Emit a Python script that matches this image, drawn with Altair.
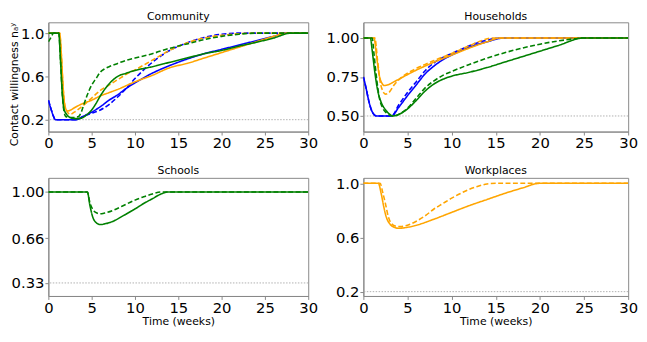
import altair as alt
import pandas as pd

BLUE, ORANGE, GREEN = "#0000ff", "#ffa500", "#008000"

# ---------------- Community ----------------
com_blue_solid_t = [0, 0.3, 0.6, 0.8, 3.2, 4, 5, 6, 7, 8, 9, 10, 12, 14, 16, 18, 20, 22, 24, 26, 27.5, 30]
com_blue_solid_v = [0.38, 0.30, 0.23, 0.20, 0.20, 0.23, 0.27, 0.32, 0.38, 0.43, 0.49, 0.54, 0.63, 0.70, 0.76, 0.81, 0.85, 0.89, 0.93, 0.97, 1.0, 1.0]
com_blue_dash_t = [0, 0.3, 0.6, 0.8, 3.2, 4, 5, 6, 7, 8, 9, 10, 11, 12, 13, 14, 16, 18, 20, 22, 30]
com_blue_dash_v = [0.38, 0.30, 0.23, 0.20, 0.20, 0.23, 0.26, 0.29, 0.34, 0.41, 0.49, 0.58, 0.66, 0.73, 0.79, 0.84, 0.91, 0.96, 0.99, 1.0, 1.0]
com_orange_solid_t = [0, 1.3, 1.5, 1.7, 1.9, 2.2, 2.6, 3, 4, 5, 6, 7, 8, 10, 12, 14, 16, 18, 20, 22, 24, 26, 27.5, 30]
com_orange_solid_v = [1.0, 1.0, 0.8, 0.5, 0.33, 0.28, 0.29, 0.31, 0.35, 0.38, 0.42, 0.45, 0.48, 0.55, 0.61, 0.68, 0.72, 0.77, 0.82, 0.87, 0.92, 0.97, 1.0, 1.0]
com_orange_dash_t = [0, 1.3, 1.5, 1.7, 2.0, 2.5, 3, 4, 5, 6, 7, 8, 9, 10, 12, 14, 16, 18, 20, 22, 24, 30]
com_orange_dash_v = [1.0, 1.0, 0.8, 0.5, 0.3, 0.25, 0.27, 0.33, 0.40, 0.47, 0.52, 0.57, 0.62, 0.66, 0.75, 0.84, 0.91, 0.955, 0.98, 0.995, 1.0, 1.0]
com_green_solid_t = [0, 1.2, 1.4, 1.6, 1.8, 2.1, 2.5, 3, 3.5, 4, 4.5, 5, 5.5, 6, 6.5, 7, 7.5, 8, 9, 10, 12, 14, 16, 18, 20, 22, 24, 26, 28, 30]
com_green_solid_v = [1.0, 1.0, 0.75, 0.45, 0.30, 0.25, 0.22, 0.21, 0.21, 0.22, 0.25, 0.29, 0.35, 0.42, 0.48, 0.53, 0.57, 0.60, 0.63, 0.655, 0.69, 0.73, 0.77, 0.81, 0.84, 0.88, 0.915, 0.955, 1.0, 1.0]
com_green_dash_t = [0, 0.3, 0.6, 1.2, 1.4, 1.6, 1.8, 2.0, 2.5, 3.0, 3.5, 3.8, 4.1, 4.5, 5, 5.5, 6, 6.5, 7, 8, 9, 10, 12, 14, 16, 18, 20, 22, 24, 30]
com_green_dash_v = [0.92, 0.96, 1.0, 1.0, 0.75, 0.45, 0.28, 0.23, 0.22, 0.22, 0.23, 0.27, 0.34, 0.43, 0.52, 0.58, 0.64, 0.67, 0.69, 0.72, 0.75, 0.77, 0.81, 0.86, 0.90, 0.94, 0.97, 0.99, 1.0, 1.0]

# ---------------- Households ----------------
hh_blue_solid_t = [0, 0.3, 0.6, 0.9, 1.2, 1.5, 3.2, 4, 5, 6, 7, 8, 9, 10, 12, 14, 16, 30]
hh_blue_solid_v = [0.75, 0.68, 0.60, 0.54, 0.51, 0.50, 0.50, 0.555, 0.63, 0.70, 0.77, 0.82, 0.86, 0.89, 0.94, 0.975, 1.0, 1.0]
hh_blue_dash_t = [0, 0.3, 0.6, 0.9, 1.2, 1.5, 3.2, 4, 5, 6, 7, 8, 9, 10, 12, 14, 15.5, 30]
hh_blue_dash_v = [0.75, 0.68, 0.60, 0.54, 0.51, 0.50, 0.50, 0.57, 0.65, 0.72, 0.79, 0.84, 0.875, 0.90, 0.95, 0.985, 1.0, 1.0]
hh_orange_solid_t = [0, 1.2, 1.5, 1.8, 2.1, 2.4, 2.8, 3.5, 4.5, 5.5, 7, 8, 10, 12, 14, 15.5, 30]
hh_orange_solid_v = [1.0, 1.0, 0.88, 0.76, 0.71, 0.695, 0.70, 0.72, 0.75, 0.78, 0.82, 0.845, 0.89, 0.935, 0.975, 1.0, 1.0]
hh_orange_dash_t = [0, 1.3, 1.6, 1.9, 2.2, 2.5, 2.9, 3.5, 4.5, 5.5, 7, 8, 10, 12, 13.5, 14.5, 30]
hh_orange_dash_v = [1.0, 1.0, 0.86, 0.72, 0.66, 0.64, 0.65, 0.70, 0.755, 0.79, 0.83, 0.855, 0.90, 0.95, 0.985, 1.0, 1.0]
hh_green_solid_t = [0, 0.8, 1.0, 1.3, 1.6, 2.0, 2.5, 3.0, 3.3, 4, 5, 6, 7, 8, 9, 10, 12, 14, 16, 18, 20, 22, 25, 30]
hh_green_solid_v = [1.0, 1.0, 0.92, 0.78, 0.67, 0.59, 0.54, 0.51, 0.50, 0.51, 0.545, 0.60, 0.66, 0.705, 0.735, 0.755, 0.78, 0.81, 0.845, 0.88, 0.915, 0.95, 1.0, 1.0]
hh_green_dash_t = [0, 1.0, 1.2, 1.5, 1.8, 2.2, 2.6, 3.0, 3.5, 4, 5, 6, 7, 8, 9, 10, 12, 14, 16, 18, 20, 22, 24, 25, 30]
hh_green_dash_v = [1.0, 1.0, 0.9, 0.74, 0.62, 0.55, 0.52, 0.505, 0.50, 0.51, 0.55, 0.615, 0.68, 0.725, 0.76, 0.785, 0.83, 0.87, 0.905, 0.935, 0.96, 0.98, 0.995, 1.0, 1.0]

# ---------------- Schools ----------------
sc_green_solid_t = [0, 4.5, 4.8, 5.1, 5.5, 6.0, 6.5, 7.5, 8.5, 10, 11, 12, 13, 13.8, 30]
sc_green_solid_v = [1.0, 1.0, 0.90, 0.82, 0.775, 0.76, 0.765, 0.785, 0.82, 0.875, 0.915, 0.95, 0.985, 1.0, 1.0]
sc_green_dash_t = [0, 4.5, 4.8, 5.2, 5.6, 6.0, 6.5, 7.5, 8.5, 10, 11, 12, 13, 30]
sc_green_dash_v = [1.0, 1.0, 0.92, 0.865, 0.845, 0.84, 0.845, 0.865, 0.895, 0.94, 0.965, 0.985, 1.0, 1.0]

# ---------------- Workplaces ----------------
wp_orange_solid_t = [0, 1.7, 2.0, 2.3, 2.6, 3.0, 3.5, 4.0, 5, 6, 8, 10, 12, 14, 16, 18, 20, 30]
wp_orange_solid_v = [1.0, 1.0, 0.93, 0.83, 0.75, 0.70, 0.675, 0.668, 0.675, 0.69, 0.735, 0.785, 0.835, 0.88, 0.925, 0.965, 1.0, 1.0]
wp_orange_dash_t = [0, 1.9, 2.2, 2.5, 2.8, 3.1, 3.6, 4.2, 5, 6, 7, 8, 9, 10, 11, 12, 13, 14, 15, 30]
wp_orange_dash_v = [1.0, 1.0, 0.93, 0.85, 0.76, 0.71, 0.685, 0.68, 0.69, 0.72, 0.76, 0.81, 0.85, 0.89, 0.925, 0.955, 0.978, 0.995, 1.0, 1.0]

x_ticks = [0, 5, 10, 15, 20, 25, 30]
FONT = "DejaVu Sans"


def frame(series):
    rows = []
    for key, (color, dash, ts, vs) in enumerate(series):
        for t, v in zip(ts, vs):
            rows.append({"t": t, "v": v, "c": color, "d": dash, "k": key})
    return pd.DataFrame(rows)


def panel(title, series, ydom, yticks, yfmt, hline, w, h, ytitle=None, xtitle=None, toff=2):
    df = frame(series)
    x = alt.X("t:Q", scale=alt.Scale(domain=[0, 30], nice=False),
              axis=alt.Axis(values=x_ticks, format="d", title=xtitle, labelFlush=False, titlePadding=0))
    yaxis = dict(values=yticks, format=yfmt, labelFlush=False)
    if ytitle:
        yaxis["title"] = ytitle
        yaxis["titleAnchor"] = "end"
    else:
        yaxis["title"] = None
    y = alt.Y("v:Q", scale=alt.Scale(domain=ydom, nice=False, zero=False), axis=alt.Axis(**yaxis))
    lines = alt.Chart(df).mark_line(strokeWidth=1.6, clip=True, interpolate="monotone").encode(
        x=x, y=y,
        color=alt.Color("c:N", scale=None, legend=None),
        strokeDash=alt.StrokeDash("d:N", scale=alt.Scale(domain=["solid", "dashed"], range=[[1, 0], [5, 2.5]]), legend=None),
        detail="k:N",
        order=alt.Order("t:Q"),
    )
    rule = alt.Chart(pd.DataFrame({"y": [hline]})).mark_rule(
        strokeDash=[1.5, 1.5], color="#b0b0b0", strokeWidth=1
    ).encode(y=alt.Y("y:Q"))
    return alt.layer(rule, lines).properties(
        width=w, height=h,
        title=alt.TitleParams(title, fontWeight="normal", fontSize=11, font=FONT, offset=toff),
    )


community = panel("Community", [
    (BLUE, "solid", com_blue_solid_t, com_blue_solid_v),
    (BLUE, "dashed", com_blue_dash_t, com_blue_dash_v),
    (ORANGE, "solid", com_orange_solid_t, com_orange_solid_v),
    (ORANGE, "dashed", com_orange_dash_t, com_orange_dash_v),
    (GREEN, "solid", com_green_solid_t, com_green_solid_v),
    (GREEN, "dashed", com_green_dash_t, com_green_dash_v),
], [0.09, 1.1], [0.2, 0.6, 1.0], ".1f", 0.2, 264, 111,
    ytitle="Contact willingness n\u2090\u02b8", toff=0)

households = panel("Households", [
    (BLUE, "solid", hh_blue_solid_t, hh_blue_solid_v),
    (BLUE, "dashed", hh_blue_dash_t, hh_blue_dash_v),
    (ORANGE, "solid", hh_orange_solid_t, hh_orange_solid_v),
    (ORANGE, "dashed", hh_orange_dash_t, hh_orange_dash_v),
    (GREEN, "solid", hh_green_solid_t, hh_green_solid_v),
    (GREEN, "dashed", hh_green_dash_t, hh_green_dash_v),
], [0.40, 1.10], [0.5, 0.75, 1.0], ".2f", 0.5, 269, 111, toff=0)

schools = panel("Schools", [
    (GREEN, "solid", sc_green_solid_t, sc_green_solid_v),
    (GREEN, "dashed", sc_green_dash_t, sc_green_dash_v),
], [0.234, 1.104], [0.33, 0.66, 1.0], ".2f", 0.33, 264, 120, xtitle="Time (weeks)")

workplaces = panel("Workplaces", [
    (ORANGE, "solid", wp_orange_solid_t, wp_orange_solid_v),
    (ORANGE, "dashed", wp_orange_dash_t, wp_orange_dash_v),
], [0.168, 1.04], [0.2, 0.6, 1.0], ".1f", 0.2, 269, 120, xtitle="Time (weeks)", toff=0)

chart = alt.concat(
    community, households, schools, workplaces,
    columns=2, spacing={"row": 47, "column": 56}, bounds="flush",
).properties(
    padding={"left": 0, "top": 0, "right": 0, "bottom": 0}
).configure_view(
    stroke="#888888", strokeWidth=1
).configure_axis(
    domainColor="#888888", tickColor="#888888", tickSize=3.5, grid=False,
    labelFont=FONT, labelFontSize=15, labelColor="#000000", labelPadding=1,
    titleFont=FONT, titleFontSize=11, titleFontWeight="normal", titleColor="#000000",
    titlePadding=1,
).configure_title(
    font=FONT, fontSize=11, fontWeight="normal", color="#000000", offset=2
)

chart.save("out.html", embed_options={"renderer": "svg", "actions": False})
